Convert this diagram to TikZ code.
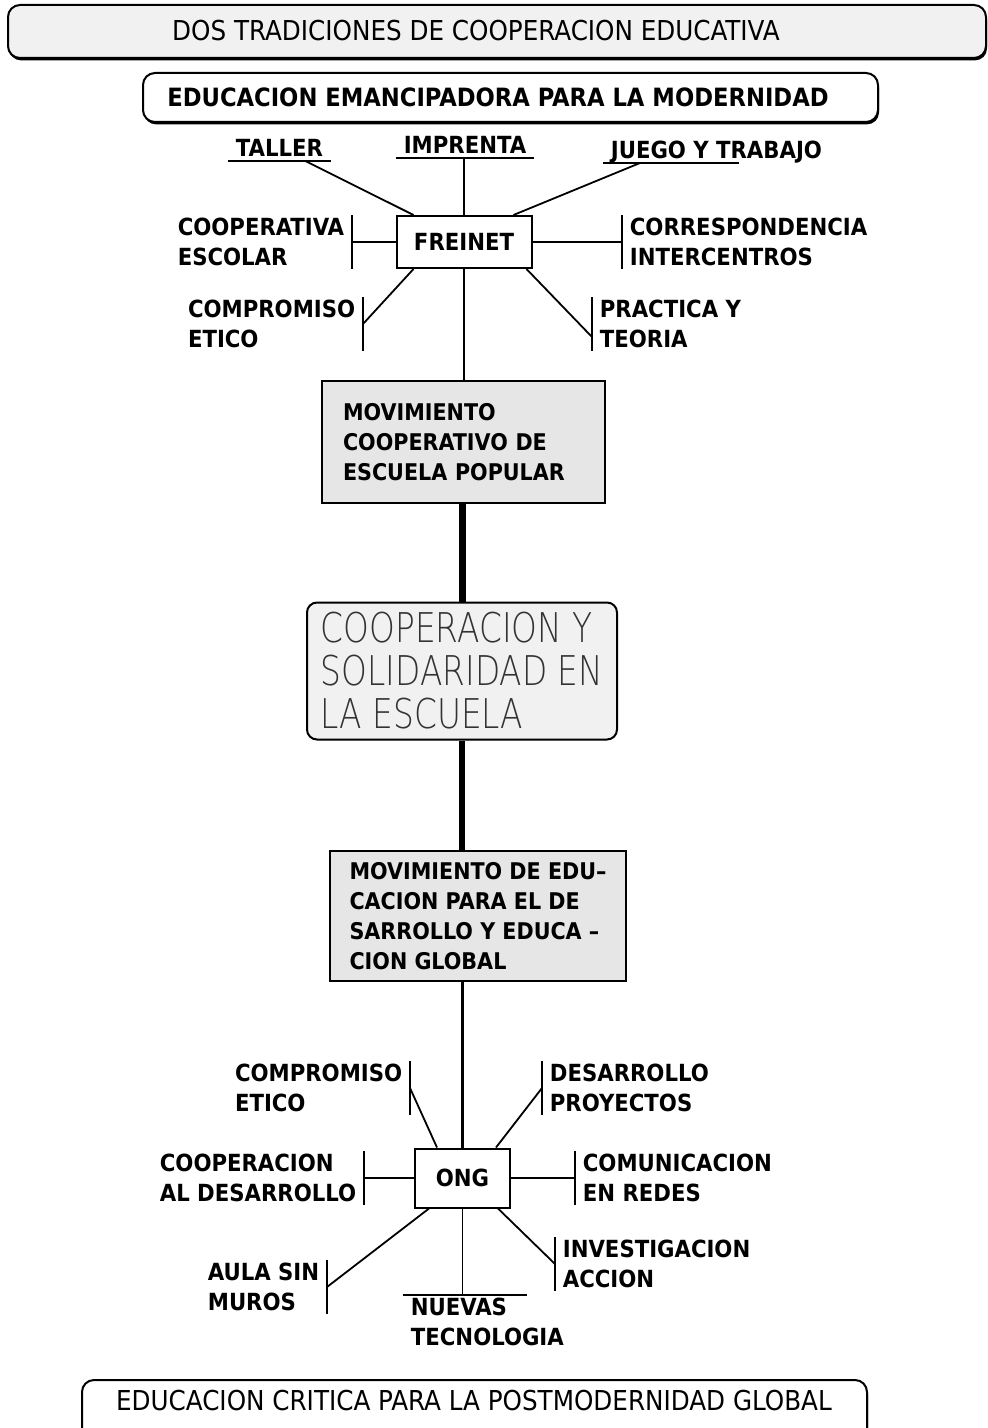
\documentclass[tikz,border=0pt]{standalone}
\usepackage{fontspec}
\newfontfamily\lblfont{DejaVu Sans Condensed}
\newfontfamily\thinfont[FakeStretch=0.8]{DejaVu Sans ExtraLight}
\usetikzlibrary{calc,shadows}
\definecolor{boxgray}{HTML}{E6E6E6}
\definecolor{palegray}{HTML}{F1F1F1}
\tikzset{
  banner/.style={
    draw,
    fill=white,
    line width=1pt,
    rounded corners=6pt,
    drop shadow={shadow xshift=0.5pt,shadow yshift=-1.2pt,fill=black,opacity=1}
  },
  bantext/.style={
    inner sep=0pt,
    font=\lblfont\fontsize{13.7}{16}\selectfont
  },
  hub/.style={
    draw,
    fill=white,
    line width=1pt,
    font=\lblfont\bfseries\fontsize{11.8}{15}\selectfont
  },
  panel/.style={
    draw,
    fill=boxgray,
    line width=1pt,
    align=left,
    font=\lblfont\bfseries\fontsize{11.5}{15}\selectfont
  },
  softbox/.style={
    draw,
    fill=palegray,
    line width=1pt,
    rounded corners=5pt,
    align=left,
    text=black!80,
    font=\thinfont\fontsize{20.5}{21.5}\selectfont
  },
  lbl/.style={
    inner xsep=3.5pt,
    inner ysep=1pt,
    align=left,
    font=\lblfont\bfseries\fontsize{11.8}{15}\selectfont
  },
  ulbl/.style={
    lbl,
    inner ysep=2pt,
    text depth=0pt
  }
}

\begin{document}
\begin{tikzpicture}[x=0.5pt,y=-0.5pt,line width=0.9pt]
  \useasboundingbox (0,0) rectangle (987,1428);
  % banners at the top
  \draw[banner,fill=palegray] (8,5) rectangle (986,58);
  \node[bantext] (title) at (476,31) {DOS TRADICIONES DE COOPERACION EDUCATIVA};
  \draw[banner] (143,73) rectangle (878,122);
  \node[bantext,font=\lblfont\bfseries\fontsize{12.6}{16}\selectfont] (moder) at (498,97) {EDUCACION EMANCIPADORA PARA LA MODERNIDAD};

  % freinet and its spokes
  \node[hub,minimum width=67.5pt,minimum height=26pt] (freinet) at (464,242) {FREINET};
  \node[ulbl,anchor=south west] (taller) at (228,161) {TALLER};
  \node[ulbl,anchor=south] (imprenta) at (465,158) {IMPRENTA};
  \node[ulbl,anchor=south west] (juego) at (603,163) {JUEGO Y TRABAJO};
  \node[lbl,anchor=east] (coopesc) at (352,242) {COOPERATIVA\\ESCOLAR};
  \node[lbl,anchor=west] (corresp) at (622,242) {CORRESPONDENCIA\\INTERCENTROS};
  \node[lbl,anchor=east] (compr) at (363,324) {COMPROMISO\\ETICO};
  \node[lbl,anchor=west] (practica) at (592,324) {PRACTICA Y\\TEORIA};
  \foreach \n in {taller,imprenta}{
    \draw (\n.south west) -- (\n.south east);
  }
  \draw (juego.south west) -- ($(juego.south west)!0.6!(juego.south east)$);
  \foreach \n in {coopesc,compr}{
    \draw (\n.north east) -- (\n.south east);
  }
  \foreach \n in {corresp,practica}{
    \draw (\n.north west) -- (\n.south west);
  }
  \draw (freinet.north) -- (freinet.north |- imprenta.south);
  \draw ($(taller.south)+(26,0)$) -- ($(freinet.north west)+(18,0)$);
  \draw ($(juego.south west)+(37,0)$) -- ($(freinet.north east)+(-19,0)$);
  \draw (freinet.west) -- (coopesc.east);
  \draw (freinet.east) -- (corresp.west);
  \draw ($(freinet.south west)+(18,0)$) -- (compr.east);
  \draw ($(freinet.south east)+(-6,0)$) -- ($(practica.west)+(0,13)$);

  % central column
  \node[panel,minimum width=141.5pt,minimum height=61pt,text width=120.5pt] (mcep) at (463.5,442) {MOVIMIENTO\\COOPERATIVO DE\\ESCUELA POPULAR};
  \node[softbox,minimum width=155pt,minimum height=68.5pt] (solid) at (462,671) {COOPERACION Y\\SOLIDARIDAD EN\\LA ESCUELA};
  \node[panel,minimum width=148pt,minimum height=65pt] (medu) at (478,916) {MOVIMIENTO DE EDU–\\CACION PARA EL DE\\SARROLLO Y EDUCA –\\CION GLOBAL};
  \node[hub,minimum width=47.5pt,minimum height=29.5pt] (ong) at (462.5,1178) {ONG};
  \draw (freinet.south) -- (freinet.south |- mcep.north);
  \draw[line width=3.5pt] (solid.north |- mcep.south) -- (solid.north);
  \draw[line width=3pt] (solid.south) -- (solid.south |- medu.north);
  \draw[line width=1.6pt] (ong.north |- medu.south) -- (ong.north);

  % ong and its spokes
  \node[lbl,anchor=east] (compr2) at (410,1088) {COMPROMISO\\ETICO};
  \node[lbl,anchor=west] (desarr) at (542,1088) {DESARROLLO\\PROYECTOS};
  \node[lbl,anchor=east] (coopdes) at (364,1178) {COOPERACION\\AL DESARROLLO};
  \node[lbl,anchor=west] (comred) at (575,1178) {COMUNICACION\\EN REDES};
  \node[lbl,anchor=east] (aula) at (327,1287) {AULA SIN\\MUROS};
  \node[lbl,anchor=west] (invac) at (555,1264) {INVESTIGACION\\ACCION};
  \node[lbl,anchor=north west] (nuevas) at (403,1295) {NUEVAS\\TECNOLOGIA};
  \foreach \n in {compr2,coopdes,aula}{
    \draw (\n.north east) -- (\n.south east);
  }
  \foreach \n in {desarr,comred,invac}{
    \draw (\n.north west) -- (\n.south west);
  }
  \draw (compr2.east) -- ($(ong.north west)+(23,0)$);
  \draw (desarr.west) -- ($(ong.north east)+(-15,0)$);
  \draw (ong.west) -- (coopdes.east);
  \draw (ong.east) -- (comred.west);
  \draw (aula.east) -- ($(ong.south west)+(15,0)$);
  \draw (invac.west) -- ($(ong.south east)+(-13,0)$);
  \draw (ong.south) -- (ong.south |- nuevas.north);
  \draw (nuevas.north west) -- ++(124,0);

  % banner at the bottom
  \draw[banner] (82,1380) rectangle (867,1470);
  \node[bantext] (postmod) at (474,1401) {EDUCACION CRITICA PARA LA POSTMODERNIDAD GLOBAL};
\end{tikzpicture}
\end{document}
